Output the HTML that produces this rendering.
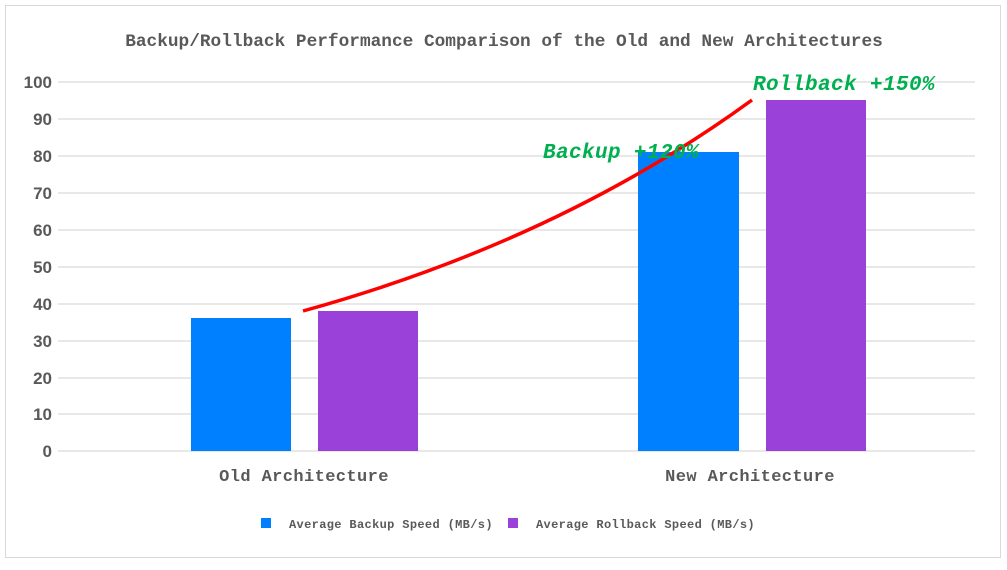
<!DOCTYPE html>
<html><head><style>
body{margin:0;background:#fff}
.m{font-family:"Liberation Mono",monospace}
.s{font-family:"Liberation Sans",sans-serif}
</style></head><body>
<svg width="1007" height="565" xmlns="http://www.w3.org/2000/svg">
<rect x="5.5" y="5.5" width="995" height="552" fill="#fff" stroke="#d9d9d9" stroke-width="1"/>
<text class="m" x="504" y="46" text-anchor="middle" font-size="17.8" fill="#595959" font-weight="bold">Backup/Rollback Performance Comparison of the Old and New Architectures</text>
<g stroke="#d9d9d9" stroke-width="1.3">
<line x1="58" x2="975" y1="82" y2="82"/><line x1="58" x2="975" y1="119" y2="119"/>
<line x1="58" x2="975" y1="156" y2="156"/><line x1="58" x2="975" y1="193" y2="193"/>
<line x1="58" x2="975" y1="230" y2="230"/><line x1="58" x2="975" y1="267" y2="267"/>
<line x1="58" x2="975" y1="304" y2="304"/><line x1="58" x2="975" y1="341" y2="341"/>
<line x1="58" x2="975" y1="378" y2="378"/><line x1="58" x2="975" y1="414" y2="414"/>
<line x1="58" x2="975" y1="451" y2="451"/>
</g>
<g class="s" font-size="17" font-weight="bold" fill="#595959" text-anchor="end">
<text x="52" y="88">100</text><text x="52" y="125">90</text><text x="52" y="162">80</text>
<text x="52" y="199">70</text><text x="52" y="236">60</text><text x="52" y="273">50</text>
<text x="52" y="310">40</text><text x="52" y="347">30</text><text x="52" y="384">20</text>
<text x="52" y="420">10</text><text x="52" y="457">0</text>
</g>
<rect x="191" y="318" width="100" height="133" fill="#0080ff"/>
<rect x="318" y="311" width="100" height="140" fill="#9a41d9"/>
<rect x="638" y="152" width="101" height="299" fill="#0080ff"/>
<rect x="766" y="100" width="100" height="351" fill="#9a41d9"/>
<text class="m" x="304" y="481" text-anchor="middle" font-size="17" font-weight="bold" fill="#595959" letter-spacing="0.4">Old Architecture</text>
<text class="m" x="750" y="481" text-anchor="middle" font-size="17" font-weight="bold" fill="#595959" letter-spacing="0.4">New Architecture</text>
<rect x="261" y="518" width="10" height="10" fill="#0080ff"/>
<text class="m" x="289" y="528" font-size="12" font-weight="bold" fill="#595959" letter-spacing="0.35">Average Backup Speed (MB/s)</text>
<rect x="508" y="518" width="10" height="10" fill="#9a41d9"/>
<text class="m" x="536" y="528" font-size="12" font-weight="bold" fill="#595959" letter-spacing="0.35">Average Rollback Speed (MB/s)</text>
<path d="M303 311 Q560 240 752 100" fill="none" stroke="#ff0000" stroke-width="3.5"/>
<text class="m" x="543" y="158" font-size="21" font-weight="bold" font-style="italic" fill="#00b050" letter-spacing="0.4">Backup +120%</text>
<text class="m" x="753" y="90" font-size="21" font-weight="bold" font-style="italic" fill="#00b050" letter-spacing="0.4">Rollback +150%</text>
</svg>
</body></html>
